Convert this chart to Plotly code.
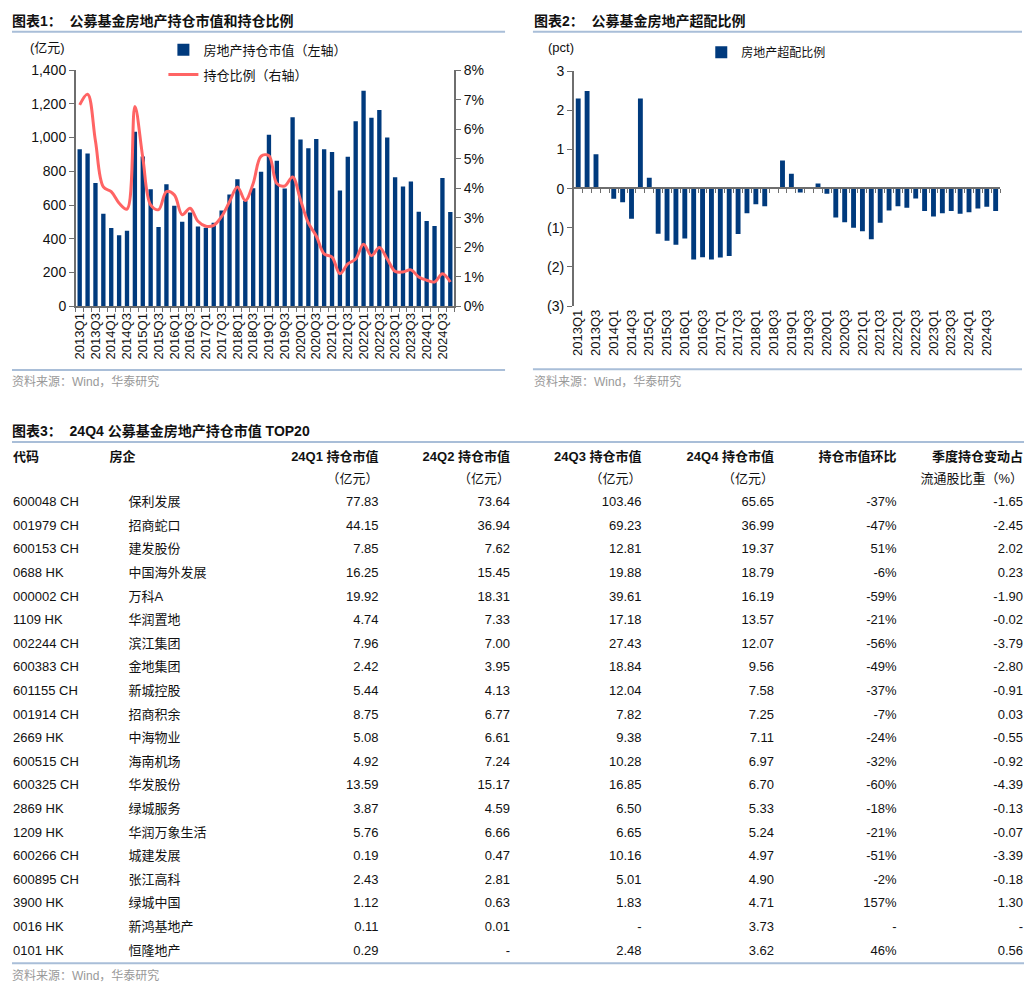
import plotly.graph_objects as go

# figure sized so that the page (figure + default 8px body margin) fills 1032x994
OFF = 8
FW, FH = 1032 - 2 * OFF, 994 - 2 * OFF

# ---------------- data ----------------
quarters = [f"{y}Q{q}" for y in range(2013, 2025) for q in range(1, 5)]

holding_value = [930, 905, 731, 548, 463, 420, 447, 1034, 888, 694, 470, 723,
                 595, 500, 556, 472, 465, 494, 568, 663, 752, 624, 700, 797,
                 1017, 863, 698, 1120, 988, 937, 991, 931, 914, 686, 886, 1096,
                 1277, 1118, 1163, 1001, 764, 710, 739, 560, 505, 476, 760, 558]

holding_ratio = [6.82, 7.18, 5.60, 4.04, 3.88, 3.49, 3.29, 6.77, 5.04, 3.43, 3.27, 3.88,
                 3.77, 3.10, 3.32, 2.88, 2.71, 2.74, 3.04, 3.54, 4.04, 3.58, 4.16, 5.08,
                 5.10, 4.16, 4.07, 4.38, 3.60, 2.82, 2.38, 1.77, 1.66, 1.10, 1.43, 1.60,
                 2.10, 1.71, 1.99, 1.60, 1.18, 1.16, 1.23, 0.99, 0.88, 0.82, 1.10, 0.82]

overweight = [2.30, 2.49, 0.88, 0.03, -0.26, -0.35, -0.77, 2.30, 0.28, -1.15, -1.33, -1.43,
              -1.27, -1.81, -1.75, -1.81, -1.76, -1.72, -1.16, -0.63, -0.40, -0.45, 0.04, 0.72,
              0.38, -0.10, 0.04, 0.13, -0.13, -0.74, -0.86, -1.00, -1.09, -1.29, -0.87, -0.56,
              -0.45, -0.49, -0.25, -0.57, -0.71, -0.63, -0.57, -0.64, -0.60, -0.51, -0.46, -0.57]

codes = ["600048 CH", "001979 CH", "600153 CH", "0688 HK", "000002 CH", "1109 HK",
         "002244 CH", "600383 CH", "601155 CH", "001914 CH", "2669 HK", "600515 CH",
         "600325 CH", "2869 HK", "1209 HK", "600266 CH", "600895 CH", "3900 HK",
         "0016 HK", "0101 HK"]
names = ["保利发展", "招商蛇口", "建发股份", "中国海外发展", "万科A", "华润置地",
         "滨江集团", "金地集团", "新城控股", "招商积余", "中海物业", "海南机场",
         "华发股份", "绿城服务", "华润万象生活", "城建发展", "张江高科", "绿城中国",
         "新鸿基地产", "恒隆地产"]
v24q1 = [77.83, 44.15, 7.85, 16.25, 19.92, 4.74, 7.96, 2.42, 5.44, 8.75, 5.08, 4.92,
         13.59, 3.87, 5.76, 0.19, 2.43, 1.12, 0.11, 0.29]
v24q2 = [73.64, 36.94, 7.62, 15.45, 18.31, 7.33, 7.00, 3.95, 4.13, 6.77, 6.61, 7.24,
         15.17, 4.59, 6.66, 0.47, 2.81, 0.63, 0.01, None]
v24q3 = [103.46, 69.23, 12.81, 19.88, 39.61, 17.18, 27.43, 18.84, 12.04, 7.82, 9.38, 10.28,
         16.85, 6.50, 6.65, 10.16, 5.01, 1.83, None, 2.48]
v24q4 = [65.65, 36.99, 19.37, 18.79, 16.19, 13.57, 12.07, 9.56, 7.58, 7.25, 7.11, 6.97,
         6.70, 5.33, 5.24, 4.97, 4.90, 4.71, 3.73, 3.62]
qoq_pct = [-37, -47, 51, -6, -59, -21, -56, -49, -37, -7, -24, -32, -60, -18, -21, -51,
           -2, 157, None, 46]
float_share_chg = [-1.65, -2.45, 2.02, 0.23, -1.90, -0.02, -3.79, -2.80, -0.91, 0.03,
                   -0.55, -0.92, -4.39, -0.13, -0.07, -3.39, -0.18, 1.30, None, 0.56]

header_line1 = ["代码", "房企", "24Q1 持仓市值", "24Q2 持仓市值", "24Q3 持仓市值",
                "24Q4 持仓市值", "持仓市值环比", "季度持仓变动占"]
header_line2 = ["", "", "（亿元）", "（亿元）", "（亿元）", "（亿元）", "", "流通股比重（%）"]

# ---------------- styling / layout ----------------
FONT = "Liberation Sans, Arial, Noto Sans CJK SC, sans-serif"
BAR = "#003A7D"
LINE = "#FF6464"
RULE = "#A9BED8"
AXIS = "#6E6E6E"

# table column anchors (page pixels) and alignment
col_anchor = [9, 125, 376, 508, 640, 773, 896, 1023]
head_anchor = [9, 106, 376, 508, 640, 773, 896, 1023]
col_left = [True, True, False, False, False, False, False, False]


def px(x):
    return (x - OFF) / FW


def py(y):
    return 1 - (y - OFF) / FH


def fmt(v, pct=False):
    if v is None:
        return "-"
    return f"{v:.0f}%" if pct else f"{v:.2f}"


ticktext = [q if i % 2 == 0 else "" for i, q in enumerate(quarters)]

fig = go.Figure()

# chart 1
fig.add_trace(go.Bar(x=quarters, y=holding_value, name="房地产持仓市值（左轴）",
                     marker=dict(color=BAR, line=dict(width=0)),
                     xaxis="x", yaxis="y", legend="legend", legendgroup="a"))
fig.add_trace(go.Scatter(x=quarters, y=[v / 100 for v in holding_ratio], name="持仓比例（右轴）",
                         mode="lines", line=dict(color=LINE, width=3, shape="spline", smoothing=1.0),
                         xaxis="x", yaxis="y2", legend="legend", legendgroup="b"))

# chart 2
fig.add_trace(go.Bar(x=quarters, y=overweight, name="房地产超配比例",
                     marker=dict(color=BAR, line=dict(width=0)),
                     xaxis="x2", yaxis="y3", legend="legend2"))
fig.add_trace(go.Scatter(x=quarters, y=[None] * len(quarters), xaxis="x3", yaxis="y3",
                         showlegend=False, hoverinfo="skip", mode="lines"))

# table: one text trace per column on a hidden axis pair (rows = index)
cols = [codes, names,
        [fmt(v) for v in v24q1], [fmt(v) for v in v24q2],
        [fmt(v) for v in v24q3], [fmt(v) for v in v24q4],
        [fmt(v, True) for v in qoq_pct], [fmt(v) for v in float_share_chg]]
rows = list(range(len(codes)))
for i in range(8):
    pos = "middle right" if col_left[i] else "middle left"
    fig.add_trace(go.Scatter(x=[col_anchor[i]] * len(rows), y=rows, text=cols[i],
                             mode="text", textposition=pos,
                             textfont=dict(family=FONT, size=13, color="#111111"),
                             xaxis="x4", yaxis="y4", showlegend=False, hoverinfo="skip"))
    fig.add_trace(go.Scatter(x=[head_anchor[i], head_anchor[i]], y=[-1.92, -1],
                             text=[f"<b>{header_line1[i]}</b>", header_line2[i]],
                             mode="text", textposition=pos,
                             textfont=dict(family=FONT, size=13, color="#111111"),
                             xaxis="x4", yaxis="y4", showlegend=False, hoverinfo="skip"))

axis_font = dict(family=FONT, size=14, color="#111111")
xtick_font = dict(family=FONT, size=13, color="#111111")

fig.update_layout(
    width=FW, height=FH, autosize=False,
    margin=dict(l=0, r=0, t=0, b=0),
    paper_bgcolor="white", plot_bgcolor="rgba(0,0,0,0)",
    font=dict(family=FONT, size=13, color="#111111"),
    bargap=0.45,
    showlegend=True,
    xaxis=dict(domain=[px(72), px(452)], anchor="y", type="category",
               categoryorder="array", categoryarray=quarters,
               tickmode="array", tickvals=quarters, ticktext=ticktext,
               tickson="boundaries", ticks="outside", ticklen=4, tickcolor=AXIS,
               tickangle=-90, tickfont=xtick_font, showline=True, linecolor=AXIS,
               linewidth=1.5, showgrid=False, zeroline=False),
    yaxis=dict(domain=[py(303), py(63)], anchor="x", range=[0, 1400], dtick=200,
               tickformat=",", ticks="outside", ticklen=5, tickcolor=AXIS,
               showline=True, linecolor=AXIS, linewidth=1.5, showgrid=False,
               zeroline=False, tickfont=axis_font),
    yaxis2=dict(overlaying="y", side="right", anchor="x", range=[0, 0.08], dtick=0.01,
                tickformat=".0%", ticks="outside", ticklen=5, tickcolor=AXIS,
                showline=True, linecolor=AXIS, linewidth=1.5, showgrid=False,
                zeroline=False, tickfont=axis_font),
    xaxis2=dict(domain=[px(572), px(1000)], anchor="y3", type="category",
                categoryorder="array", categoryarray=quarters,
                tickmode="array", tickvals=quarters, ticktext=ticktext,
                ticks="", tickangle=-90, tickfont=xtick_font, showline=False,
                showgrid=False, zeroline=False),
    xaxis3=dict(overlaying="x2", anchor="free", position=py(183), type="category",
                categoryorder="array", categoryarray=quarters, range=[-0.5, len(quarters) - 0.5],
                tickmode="array", tickvals=quarters, tickson="boundaries",
                ticks="outside", ticklen=4, tickcolor=AXIS, showticklabels=False,
                showline=True, linecolor=AXIS, linewidth=1.5, showgrid=False, zeroline=False),
    yaxis3=dict(domain=[py(303), py(64)], anchor="x2", range=[-3, 3],
                tickmode="array", tickvals=[-3, -2, -1, 0, 1, 2, 3],
                ticktext=["(3)", "(2)", "(1)", "0", "1", "2", "3"],
                ticks="outside", ticklen=5, tickcolor=AXIS, showline=True,
                linecolor=AXIS, linewidth=1.5, showgrid=False, zeroline=False,
                tickfont=axis_font),
    xaxis4=dict(domain=[0, 1], anchor="y4", range=[OFF, OFF + FW], visible=False, fixedrange=True),
    yaxis4=dict(domain=[py(971), py(443)], anchor="x4", range=[19.5, -2.5],
                visible=False, fixedrange=True),
    legend=dict(x=px(160), y=py(27), xanchor="left", yanchor="top",
                bgcolor="rgba(0,0,0,0)", font=dict(family=FONT, size=13, color="#111111"),
                tracegroupgap=5, traceorder="grouped"),
    legend2=dict(x=px(700), y=py(30), xanchor="left", yanchor="top",
                 bgcolor="rgba(0,0,0,0)", font=dict(family=FONT, size=12, color="#111111")),
)

# titles, rules and notes
ann = [
    dict(text="<b>图表1：  公募基金房地产持仓市值和持仓比例</b>", x=px(6), y=py(13), size=14, color="#111111"),
    dict(text="<b>图表2：  公募基金房地产超配比例</b>", x=px(530), y=py(13), size=14, color="#111111"),
    dict(text="<b>图表3：  24Q4 公募基金房地产持仓市值 TOP20</b>", x=px(6), y=py(430), size=14, color="#111111"),
    dict(text="(亿元)", x=px(24), y=py(40), size=13, color="#111111"),
    dict(text="(pct)", x=px(544), y=py(40), size=13, color="#111111"),
    dict(text="资料来源：Wind，华泰研究", x=px(6), y=py(380), size=12, color="#999999"),
    dict(text="资料来源：Wind，华泰研究", x=px(530), y=py(380), size=12, color="#999999"),
    dict(text="资料来源：Wind，华泰研究", x=px(6), y=py(983), size=12, color="#999999"),
]
for a in ann:
    fig.add_annotation(text=a["text"], x=a["x"], y=a["y"], xref="paper", yref="paper",
                       xanchor="left", yanchor="middle", showarrow=False,
                       font=dict(family=FONT, size=a["size"], color=a["color"]))

rules = [(8, 503, 24), (531, 1022, 24), (8, 503, 368), (531, 1022, 367),
         (8, 1024, 441), (8, 1024, 971)]
for x0, x1, y in rules:
    fig.add_shape(type="line", xref="paper", yref="paper", x0=px(x0), x1=px(x1),
                  y0=py(y), y1=py(y), line=dict(color=RULE, width=2))

fig.write_html("out.html", config={"displayModeBar": False})
